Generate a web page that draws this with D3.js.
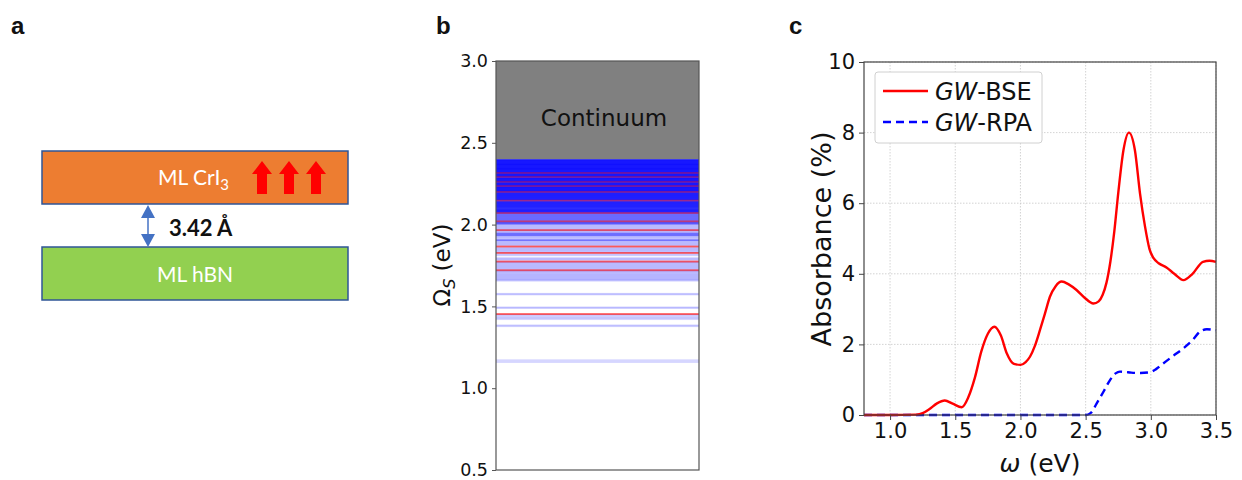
<!DOCTYPE html>
<html>
<head>
<meta charset="utf-8">
<script src="https://cdn.jsdelivr.net/npm/d3@7"></script>
<style>
body { margin: 0; background: #fff; }
svg { display: block; }
text { font-family: "DejaVu Sans", sans-serif; fill: #111; }
</style>
</head>
<body>
<div id="fig"></div>
<script>
// ---- panel b : exciton levels (eV) ----
var continuumOnset = 2.398;
var levelTicks = [0.5, 1.0, 1.5, 2.0, 2.5, 3.0];
var faintLevels = [1.160, 1.171, 1.379, 1.384, 1.422, 1.430, 1.438, 1.446,
  1.490, 1.494, 1.573, 1.577, 1.657, 1.662, 1.667, 1.672, 1.678, 1.683, 1.689, 1.694,
  1.700, 1.706, 1.712, 1.717, 1.728, 1.734, 1.740, 1.746, 1.752, 1.758, 1.764, 1.770,
  1.784, 1.790, 1.796, 1.812, 1.818, 1.834, 1.840, 1.846, 1.852, 1.858, 1.874, 1.880,
  1.886, 1.892, 1.898, 1.904, 1.914, 1.920, 1.926, 1.932, 1.938, 1.944, 1.950, 1.956,
  1.962, 1.972, 1.978, 1.984, 1.990, 1.996, 2.002];
var midLevels = [1.905, 1.935, 1.945, 2.005, 2.010, 2.015, 2.026, 2.032, 2.038, 2.044,
  2.050, 2.056, 2.062, 2.068];
var denseLevels = [2.078, 2.084, 2.090, 2.097, 2.104, 2.110, 2.116, 2.122, 2.128, 2.134,
  2.140, 2.152, 2.158, 2.164, 2.170, 2.176, 2.182, 2.188, 2.194, 2.205, 2.210, 2.215,
  2.220, 2.225, 2.230, 2.240, 2.245, 2.250, 2.255, 2.265, 2.270, 2.275, 2.280, 2.285,
  2.295, 2.300, 2.305, 2.310, 2.320, 2.325, 2.330, 2.335, 2.340, 2.345, 2.350, 2.355,
  2.360, 2.365, 2.370, 2.375, 2.380, 2.385, 2.390, 2.395];
var brightLevels = [1.453, 1.721, 1.774, 1.827, 1.866, 1.966, 2.020, 2.071, 2.147, 2.200,
  2.236, 2.262, 2.292, 2.316];

// ---- panel c : absorbance spectra ----
var omegaTicks = [1.0, 1.5, 2.0, 2.5, 3.0, 3.5];
var absTicks = [0, 2, 4, 6, 8, 10];
var bseEnergy = [0.8, 1.0, 1.2, 1.25, 1.3, 1.36, 1.42, 1.48, 1.55, 1.6, 1.65, 1.7, 1.75,
  1.8, 1.85, 1.895, 1.95, 2.0, 2.04, 2.073, 2.11, 2.15, 2.19, 2.226, 2.27, 2.316, 2.37,
  2.43, 2.49, 2.56, 2.6, 2.63, 2.66, 2.69, 2.72, 2.75, 2.79, 2.832, 2.878, 2.917, 2.955,
  2.99, 3.02, 3.06, 3.12, 3.18, 3.25, 3.32, 3.40, 3.45, 3.5];
var bseAbs = [0, 0, 0.01, 0.05, 0.16, 0.33, 0.41, 0.32, 0.22, 0.5, 1.05, 1.8, 2.3,
  2.5, 2.25, 1.75, 1.45, 1.42, 1.5, 1.65, 1.95, 2.41, 2.9, 3.35, 3.65, 3.78, 3.7,
  3.54, 3.33, 3.16, 3.22, 3.4, 3.75, 4.35, 5.2, 6.28, 7.5, 8.0, 7.5, 6.28, 5.35,
  4.7, 4.45, 4.3, 4.18, 4.0, 3.82, 4.0, 4.34, 4.37, 4.34];
var rpaEnergy = [0.8, 2.0, 2.5, 2.54, 2.585, 2.64, 2.687, 2.73, 2.763, 2.8, 2.85, 2.92,
  2.99, 3.04, 3.095, 3.17, 3.25, 3.32, 3.377, 3.43, 3.5];
var rpaAbs = [0, 0, 0, 0.06, 0.33, 0.68, 0.99, 1.18, 1.23, 1.22, 1.2, 1.19,
  1.21, 1.3, 1.46, 1.67, 1.89, 2.12, 2.36, 2.43, 2.4];

var svg = d3.select("#fig").append("svg")
  .attr("width", 1242)
  .attr("height", 480);

// panel letters
svg.append("text").attr("x", 11).attr("y", 34).text("a")
  .style("font-family", "Liberation Sans").style("font-weight", "bold").style("font-size", "24px");
svg.append("text").attr("x", 436).attr("y", 34).text("b")
  .style("font-family", "Liberation Sans").style("font-weight", "bold").style("font-size", "24px");
svg.append("text").attr("x", 789).attr("y", 34).text("c")
  .style("font-family", "Liberation Sans").style("font-weight", "bold").style("font-size", "24px");

/////////////////////// PANEL A - heterostructure sketch ///////////////////////
var ga = svg.append("g");
ga.append("rect").attr("x", 42).attr("y", 151).attr("width", 306).attr("height", 53)
  .attr("fill", "#ed7d31").attr("stroke", "#2f5597").attr("stroke-width", 1.5);
ga.append("rect").attr("x", 42).attr("y", 247).attr("width", 306).attr("height", 53)
  .attr("fill", "#92d050").attr("stroke", "#2f5597").attr("stroke-width", 1.5);

var crLabel = ga.append("text").attr("x", 158).attr("y", 185)
  .style("font-family", "Lato").style("font-size", "21px").style("fill", "#fff");
crLabel.append("tspan").text("ML CrI");
crLabel.append("tspan").attr("dy", 5).style("font-size", "15px").text("3");

ga.append("text").attr("x", 195).attr("y", 282).attr("text-anchor", "middle")
  .style("font-family", "Lato").style("font-size", "21px").style("fill", "#fff")
  .text("ML hBN");

// spin arrows
[262, 289, 316].forEach(function(cx) {
  var p = d3.path();
  p.moveTo(cx - 10, 174); p.lineTo(cx, 161); p.lineTo(cx + 10, 174);
  p.lineTo(cx + 5, 174); p.lineTo(cx + 5, 194); p.lineTo(cx - 5, 194);
  p.lineTo(cx - 5, 174); p.closePath();
  ga.append("path").attr("d", p.toString()).attr("fill", "#ff0000");
});

// spacing arrow
ga.append("line").attr("x1", 148).attr("x2", 148).attr("y1", 212).attr("y2", 240)
  .attr("stroke", "#4472c4").attr("stroke-width", 1.5);
ga.append("path").attr("d", "M141,218 L148,205 L155,218 Z").attr("fill", "#4472c4");
ga.append("path").attr("d", "M141,234 L148,247 L155,234 Z").attr("fill", "#4472c4");
ga.append("text").attr("x", 169).attr("y", 236)
  .style("font-family", "Lato").style("font-weight", "bold").style("font-size", "22px")
  .text("3.42 Å");

/////////////////////// PANEL B - exciton levels ///////////////////////
var bL = 496, bR = 699, bT = 61, bB = 470;
var yB = d3.scaleLinear().domain([0.5, 3.0]).range([bB, bT]);
var gb = svg.append("g");

gb.append("rect").attr("x", bL).attr("y", yB(3.0)).attr("width", bR - bL)
  .attr("height", yB(continuumOnset) - yB(3.0)).attr("fill", "#808080");
gb.append("text").attr("x", 604).attr("y", 126).attr("text-anchor", "middle")
  .style("font-size", "23px").text("Continuum");

function drawLevels(levels, color, op) {
  gb.selectAll(null).data(levels).enter().append("rect")
    .attr("x", bL).attr("width", bR - bL)
    .attr("y", function(d) { return yB(d) - 0.9; })
    .attr("height", 1.8)
    .attr("fill", color).attr("fill-opacity", op);
}
// bright (red) states: one pass under the dark states, a lighter one over them
drawLevels(brightLevels, "#ff0000", 0.5);
drawLevels(faintLevels, "#0000ff", 0.16);
drawLevels(midLevels, "#0000ff", 0.4);
drawLevels(denseLevels, "#0000ff", 0.72);
drawLevels(brightLevels, "#ff0000", 0.28);

gb.append("rect").attr("x", bL).attr("y", bT).attr("width", bR - bL).attr("height", bB - bT)
  .attr("fill", "none").attr("stroke", "#555").attr("stroke-width", 1.2);

var axB = gb.append("g").attr("transform", "translate(" + bL + ",0)")
  .call(d3.axisLeft(yB).tickValues(levelTicks).tickFormat(d3.format(".1f")).tickSize(4).tickPadding(4));
axB.select(".domain").remove();
axB.selectAll("line").attr("stroke", "#555");
axB.selectAll("text").style("font-family", "DejaVu Sans").style("font-size", "17.5px").attr("fill", "#222");

var yLabB = gb.append("text").attr("transform", "translate(450,265) rotate(-90)")
  .attr("text-anchor", "middle").style("font-size", "23px");
yLabB.append("tspan").text("Ω");
yLabB.append("tspan").attr("dy", 5).style("font-size", "16px").style("font-style", "italic").text("S");
yLabB.append("tspan").attr("dy", -5).text(" (eV)");

/////////////////////// PANEL C - absorbance ///////////////////////
var cL = 864, cR = 1216, cT = 62, cB = 415;
var xC = d3.scaleLinear().domain([0.8, 3.5]).range([cL, cR]);
var yC = d3.scaleLinear().domain([0, 10]).range([cB, cT]);
var gc = svg.append("g");

// grid
gc.selectAll(null).data(omegaTicks).enter().append("line")
  .attr("x1", function(d) { return xC(d); }).attr("x2", function(d) { return xC(d); })
  .attr("y1", cT).attr("y2", cB)
  .attr("stroke", "#c8c8c8").attr("stroke-width", 0.8).attr("stroke-dasharray", "1.5,1.5");
gc.selectAll(null).data(absTicks).enter().append("line")
  .attr("y1", function(d) { return yC(d); }).attr("y2", function(d) { return yC(d); })
  .attr("x1", cL).attr("x2", cR)
  .attr("stroke", "#c8c8c8").attr("stroke-width", 0.8).attr("stroke-dasharray", "1.5,1.5");

var bseData = bseEnergy.map(function(e, i) { return [e, bseAbs[i]]; });
var rpaData = rpaEnergy.map(function(e, i) { return [e, rpaAbs[i]]; });
var line = d3.line()
  .x(function(d) { return xC(d[0]); })
  .y(function(d) { return yC(d[1]); })
  .curve(d3.curveMonotoneX);

gc.append("path").datum(rpaData).attr("d", line)
  .attr("fill", "none").attr("stroke", "#0000ff").attr("stroke-width", 2.4)
  .attr("stroke-dasharray", "8,5");
gc.append("path").datum(bseData).attr("d", line)
  .attr("fill", "none").attr("stroke", "#ff0000").attr("stroke-width", 2.4);

gc.append("rect").attr("x", cL).attr("y", cT).attr("width", cR - cL).attr("height", cB - cT)
  .attr("fill", "none").attr("stroke", "#444").attr("stroke-width", 1.2);

var axCx = gc.append("g").attr("transform", "translate(0," + cB + ")")
  .call(d3.axisBottom(xC).tickValues(omegaTicks).tickFormat(d3.format(".1f")).tickSize(5).tickPadding(3));
var axCy = gc.append("g").attr("transform", "translate(" + cL + ",0)")
  .call(d3.axisLeft(yC).tickValues(absTicks).tickSize(5).tickPadding(4));
[axCx, axCy].forEach(function(a) {
  a.select(".domain").remove();
  a.selectAll("line").attr("stroke", "#444");
  a.selectAll("text").style("font-family", "DejaVu Sans").style("font-size", "21px").attr("fill", "#222");
});

var xLabC = gc.append("text").attr("x", 1040).attr("y", 472).attr("text-anchor", "middle")
  .style("font-size", "25px");
xLabC.append("tspan").style("font-style", "italic").text("ω");
xLabC.append("tspan").text(" (eV)");

gc.append("text").attr("transform", "translate(831,239) rotate(-90)")
  .attr("text-anchor", "middle").style("font-size", "27px").text("Absorbance (%)");

// legend
var lg = gc.append("g");
lg.append("rect").attr("x", 875).attr("y", 72).attr("width", 167).attr("height", 71)
  .attr("rx", 3).attr("fill", "#fff").attr("stroke", "#d0d0d0");
var legendItems = [
  { name: "BSE", color: "#ff0000", dash: null },
  { name: "RPA", color: "#0000ff", dash: "8,5" }
];
legendItems.forEach(function(it, i) {
  var yy = 91 + i * 31;
  lg.append("line").attr("x1", 883).attr("x2", 928).attr("y1", yy).attr("y2", yy)
    .attr("stroke", it.color).attr("stroke-width", 2.4)
    .attr("stroke-dasharray", it.dash);
  var t = lg.append("text").attr("x", 935).attr("y", yy + 9).style("font-size", "24px");
  t.append("tspan").style("font-style", "italic").text("GW");
  t.append("tspan").text("-" + it.name);
});
</script>
</body>
</html>
